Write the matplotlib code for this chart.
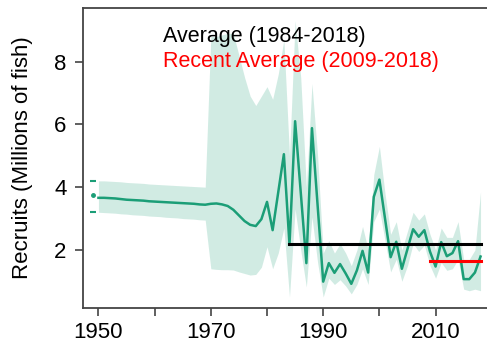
import matplotlib
matplotlib.use("Agg")
import matplotlib.pyplot as plt

plt.rcParams['font.family'] = ['Liberation Sans', 'DejaVu Sans']

# recruitment estimates, 1950-2018 (millions of fish)
years = list(range(1950, 2019))
recruits = [
    3.66, 3.66, 3.65, 3.64, 3.62, 3.60, 3.59, 3.58, 3.57, 3.55,
    3.54, 3.53, 3.52, 3.51, 3.50, 3.49, 3.48, 3.47, 3.45, 3.44,
    3.47, 3.48, 3.45, 3.40, 3.28, 3.10, 2.92, 2.80, 2.76, 2.98,
    3.53, 2.63, 3.84, 5.05, 2.16, 6.10, 3.84, 1.58, 5.88, 3.43,
    0.99, 1.58, 1.27, 1.55, 1.25, 0.92, 1.35, 1.97, 1.28, 3.69,
    4.24, 3.00, 1.77, 2.26, 1.40, 2.03, 2.66, 2.42, 2.63, 1.95,
    1.47, 2.25, 1.80, 1.90, 2.28, 1.07, 1.07, 1.28, 1.79,
]
upper = [
    4.20, 4.20, 4.19, 4.18, 4.17, 4.15, 4.14, 4.13, 4.12, 4.10,
    4.09, 4.08, 4.07, 4.06, 4.05, 4.04, 4.03, 4.02, 4.01, 4.00,
    8.80, 8.80, 8.85, 8.90, 8.90, 8.20, 7.50, 6.90, 6.60, 6.90,
    7.20, 6.80, 7.60, 8.70, 5.00, 9.30, 7.50, 4.00, 7.30, 5.00,
    1.90, 2.30, 1.90, 2.20, 1.90, 1.50, 2.00, 2.75, 2.00, 4.40,
    5.30, 3.80, 2.50, 2.90, 2.00, 2.60, 3.20, 2.95, 3.15, 2.50,
    2.00, 2.70, 2.40, 2.40, 2.90, 1.70, 1.70, 2.00, 3.85,
]
lower = [
    3.20, 3.19, 3.18, 3.17, 3.15, 3.14, 3.12, 3.11, 3.10, 3.08,
    3.07, 3.06, 3.04, 3.03, 3.02, 3.00, 2.99, 2.98, 2.96, 2.95,
    1.40, 1.38, 1.37, 1.37, 1.36, 1.30, 1.25, 1.20, 1.22, 1.45,
    2.10, 1.40, 1.90, 2.70, 0.50, 3.30, 2.00, 0.82, 3.05, 1.60,
    0.50, 1.10, 0.90, 1.05, 0.85, 0.60, 0.90, 1.40, 0.90, 2.90,
    3.30, 2.30, 1.30, 1.70, 1.00, 1.50, 2.20, 1.95, 2.15, 1.50,
    1.10, 1.60, 1.35, 1.40, 1.70, 0.75, 0.70, 0.75, 0.70,
]

# virgin recruitment point with interval
virgin_year = 1949
virgin_value = 3.75
virgin_lo, virgin_hi = 3.20, 4.20

avg_all = 2.18       # 1984-2018
avg_span = (1984, 2018)
avg_recent = 1.66    # 2009-2018
recent_span = (2009, 2018)

green = '#1b9e77'

fig = plt.figure(figsize=(4.87, 3.43), dpi=100)
ax = fig.add_axes([0.171, 0.102, 0.829, 0.875])

ax.fill_between(years, lower, upper, color=green, alpha=0.2, linewidth=0)
ax.plot(years, recruits, color=green, lw=1.8)

ax.plot([virgin_year], [virgin_value], 'o', color=green, ms=2.5)
ax.plot([virgin_year, virgin_year], [virgin_lo, virgin_hi], '_', color=green, ms=5, mew=1.5)

ax.plot(avg_span, [avg_all, avg_all], color='black', lw=2.2)
ax.plot(recent_span, [avg_recent, avg_recent], color='red', lw=2.2)

ax.text(0.198, 0.905, 'Average (1984-2018)', transform=ax.transAxes,
        fontsize=15.5, color='black', va='center', ha='left')
ax.text(0.198, 0.822, 'Recent Average (2009-2018)', transform=ax.transAxes,
        fontsize=15.5, color='red', va='center', ha='left')

ax.set_xlim(1947.3, 2019.15)
ax.set_ylim(0.15, 9.71)
ax.set_xticks(range(1950, 2020, 10))
ax.set_xticklabels(['1950', '', '1970', '', '1990', '', '2010'])
ax.set_yticks([2, 4, 6, 8])
ax.tick_params(axis='both', labelsize=16, length=6, width=1.2, color='#444444')
ax.tick_params(axis='y', pad=6)
ax.tick_params(axis='x', pad=4)
ax.set_ylabel('Recruits (Millions of fish)', fontsize=16)
ax.yaxis.set_label_coords(-0.125, 0.5)

for side in ['left', 'bottom', 'top']:
    ax.spines[side].set_color('#444444')
    ax.spines[side].set_linewidth(1.3)
ax.spines['right'].set_visible(False)

fig.savefig('out.png', dpi=100)
